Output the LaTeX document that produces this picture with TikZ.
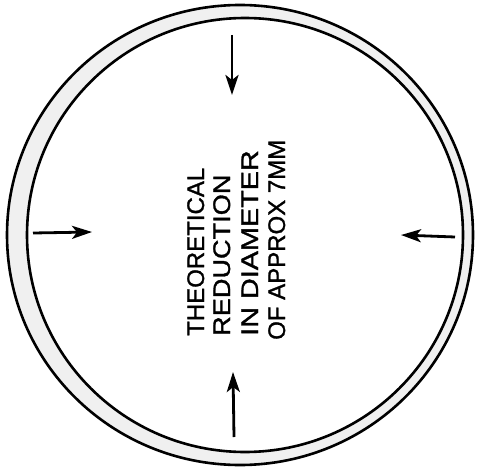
\documentclass[tikz,border=0pt]{standalone}
\usepackage{fontspec}
\usepackage{graphicx}
\setmainfont{Liberation Sans}
\newfontfamily\handfont[FakeBold=1.2]{Liberation Sans}
\usetikzlibrary{arrows.meta}
\begin{document}
\begin{tikzpicture}[x=1pt,y=-1pt,
  ringline/.style={line width=2.6pt, draw=black},
  inarrow/.style={line width=2.8pt, arrows={-Stealth[length=20pt,width=13pt,inset=5pt]}},
  txtline/.style={anchor=base west, rotate=90, inner sep=0pt, font=\handfont\fontsize{24}{28}\selectfont}
]
\useasboundingbox (0,0) rectangle (478,473);
% ring
\fill[black!6, even odd rule] (240,235) ellipse [x radius=233, y radius=230]
                             (245,235) ellipse [x radius=218, y radius=217];
\draw[ringline] (240,235) ellipse [x radius=233, y radius=230];
\draw[ringline] (245,235) ellipse [x radius=218, y radius=217];
% arrows
\coordinate (t1) at (232,35);  \coordinate (t2) at (232,95);
\coordinate (l1) at (33,233);  \coordinate (l2) at (92,232);
\coordinate (r1) at (455,237); \coordinate (r2) at (401,235);
\coordinate (b1) at (234,437); \coordinate (b2) at (233,372);
\draw[inarrow] (t1) -- (t2);
\draw[inarrow] (l1) -- (l2);
\draw[inarrow] (r1) -- (r2);
\draw[inarrow] (b1) -- (b2);
% text
\node[txtline] (w1) at (204,336) {THEORETICAL};
\node[txtline] (w2) at (230,336) {\scalebox{1.13}[1]{REDUCTION}};
\node[txtline] (w3) at (258,336) {\scalebox{1.2}[1]{IN DIAMETER}};
\node[txtline] (w4) at (285,340) {OF APPROX 7MM};
\end{tikzpicture}
\end{document}
